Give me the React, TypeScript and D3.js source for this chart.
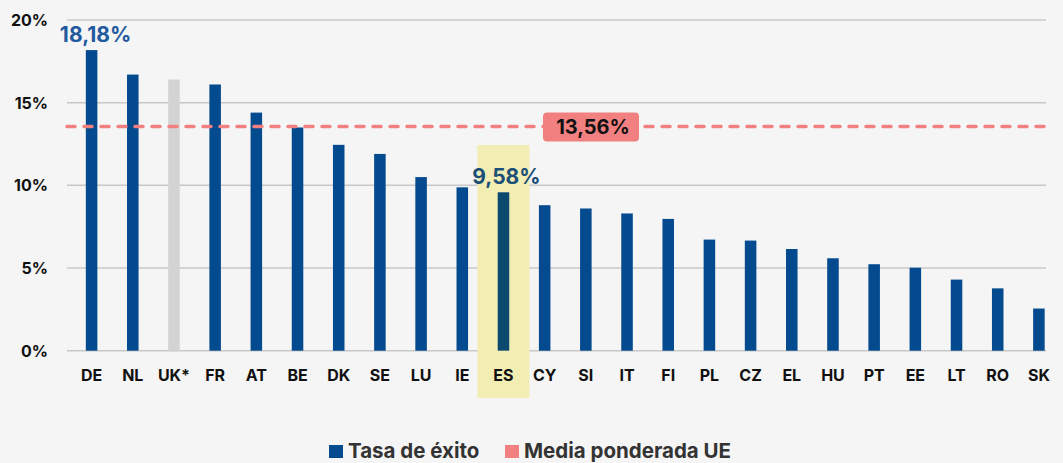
import React, { useEffect, useRef } from 'react';
import * as d3 from 'd3';

// Chart data
const countries = ['DE', 'NL', 'UK*', 'FR', 'AT', 'BE', 'DK', 'SE', 'LU', 'IE', 'ES', 'CY', 'SI', 'IT', 'FI', 'PL', 'CZ', 'EL', 'HU', 'PT', 'EE', 'LT', 'RO', 'SK'];
const successRate = [18.18, 16.7, 16.4, 16.1, 14.4, 13.5, 12.45, 11.9, 10.5, 9.88, 9.58, 8.8, 8.6, 8.3, 7.97, 6.72, 6.66, 6.15, 5.59, 5.23, 5.02, 4.3, 3.77, 2.55];
const euAverage = 13.56;
const yTicks = [0, 5, 10, 15, 20];
const legendLabels = ['Tasa de éxito', 'Media ponderada UE'];

const fmt = (v: number) => v.toFixed(2).replace('.', ',') + '%';

const App = () => {
  const svgRef = useRef<SVGSVGElement>(null);

  useEffect(() => {
    if (!svgRef.current) return;
    const width = 1063;
    const height = 463;
    const font = 'Inter, "Liberation Sans", Arial, sans-serif';
    const blue = '#034a8f';

    const svg = d3.select(svgRef.current);
    svg.selectAll('*').remove();
    svg.attr('width', width).attr('height', height);

    svg.append('rect').attr('width', width).attr('height', height).attr('fill', '#f5f5f5');

    const gridLeft = 67;
    const gridRight = 1046;

    const x = d3.scaleBand<string>()
      .domain(countries)
      .range([71, 1059.5])
      .paddingInner(0.72)
      .paddingOuter(0.36);

    const y = d3.scaleLinear().domain([0, 20]).range([350.7, 20]);

    // Gridlines
    svg.append('g')
      .selectAll('line')
      .data(yTicks)
      .join('line')
      .attr('x1', gridLeft)
      .attr('x2', gridRight)
      .attr('y1', d => y(d))
      .attr('y2', d => y(d))
      .attr('stroke', '#c8c8c8')
      .attr('stroke-width', 1.5);

    // Y tick labels
    svg.append('g')
      .selectAll('text')
      .data(yTicks)
      .join('text')
      .attr('x', 48)
      .attr('y', d => y(d) + 6)
      .attr('text-anchor', 'end')
      .style('font-family', font)
      .style('font-weight', 'bold')
      .style('font-size', '16px')
      .style('fill', '#111')
      .text(d => d + '%');

    // ES highlight
    const es = 'ES';
    const esCenter = (x(es) as number) + x.bandwidth() / 2;
    svg.append('rect')
      .attr('x', esCenter - 26)
      .attr('y', 145)
      .attr('width', 52)
      .attr('height', 253)
      .attr('fill', '#f2edb2');

    // Bars
    svg.append('g')
      .selectAll('rect')
      .data(countries)
      .join('rect')
      .attr('x', d => x(d) as number)
      .attr('y', (d, i) => y(successRate[i]))
      .attr('width', x.bandwidth())
      .attr('height', (d, i) => y(0) - y(successRate[i]))
      .attr('fill', d => d === 'UK*' ? '#d3d3d3' : d === es ? '#0b4a6e' : blue);

    // X labels
    svg.append('g')
      .selectAll('text')
      .data(countries)
      .join('text')
      .attr('x', d => (x(d) as number) + x.bandwidth() / 2)
      .attr('y', 381)
      .attr('text-anchor', 'middle')
      .style('font-family', font)
      .style('font-weight', 'bold')
      .style('font-size', '16px')
      .style('fill', '#111')
      .text(d => d);

    // Value labels (DE and ES)
    const labelled = [{ c: 'DE', color: '#1f5a9e', dx: 4 }, { c: 'ES', color: '#1c4f78', dx: 3 }];
    svg.append('g')
      .selectAll('text')
      .data(labelled)
      .join('text')
      .attr('x', d => (x(d.c) as number) + x.bandwidth() / 2 + d.dx)
      .attr('y', d => y(successRate[countries.indexOf(d.c)]) - 8)
      .attr('text-anchor', 'middle')
      .style('font-family', font)
      .style('font-weight', 'bold')
      .style('font-size', '21px')
      .style('fill', d => d.color)
      .text(d => fmt(successRate[countries.indexOf(d.c)]));

    // EU average line
    svg.append('line')
      .attr('x1', gridLeft)
      .attr('x2', gridRight)
      .attr('y1', y(euAverage))
      .attr('y2', y(euAverage))
      .attr('stroke', '#f28080')
      .attr('stroke-width', 3.5)
      .attr('stroke-linecap', 'round')
      .attr('stroke-dasharray', '8,9');

    svg.append('rect')
      .attr('x', 543)
      .attr('y', y(euAverage) - 14)
      .attr('width', 96)
      .attr('height', 29)
      .attr('rx', 4)
      .attr('fill', '#f28080');

    svg.append('text')
      .attr('x', 593)
      .attr('y', y(euAverage) + 7.5)
      .attr('text-anchor', 'middle')
      .style('font-family', font)
      .style('font-weight', 'bold')
      .style('font-size', '20px')
      .style('fill', '#111')
      .text(fmt(euAverage));

    // Legend
    const legend = svg.append('g');
    const items = [
      { label: legendLabels[0], color: blue, x: 329 },
      { label: legendLabels[1], color: '#f28080', x: 505 },
    ];
    items.forEach(it => {
      legend.append('rect')
        .attr('x', it.x)
        .attr('y', 445)
        .attr('width', 14)
        .attr('height', 13)
        .attr('fill', it.color);
      legend.append('text')
        .attr('x', it.x + 19)
        .attr('y', 458)
        .style('font-family', font)
        .style('font-weight', 'bold')
        .style('font-size', '20.5px')
        .style('fill', '#333')
        .text(it.label);
    });
  }, []);

  return (
    <svg ref={svgRef} style={{ position: 'absolute', left: 0, top: 0, display: 'block' }} />
  );
};

export default App;
